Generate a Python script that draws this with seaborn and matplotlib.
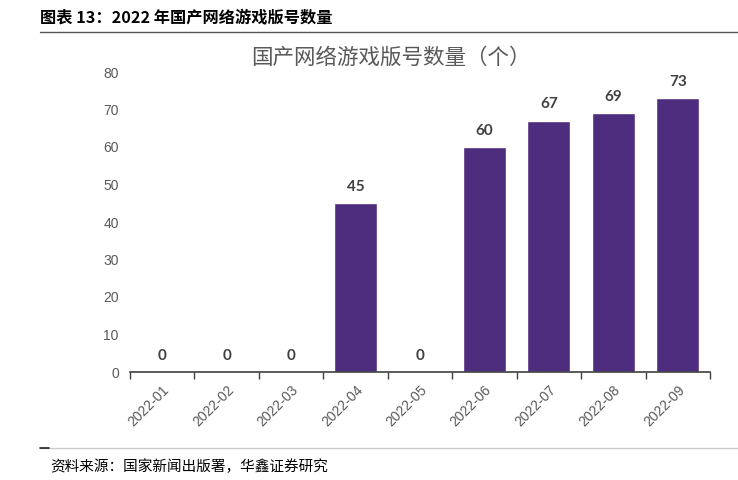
import matplotlib
matplotlib.use("Agg")
import matplotlib.pyplot as plt
import seaborn as sns
import pandas as pd

months = ["2022-01", "2022-02", "2022-03", "2022-04", "2022-05",
          "2022-06", "2022-07", "2022-08", "2022-09"]
counts = [0, 0, 0, 45, 0, 60, 67, 69, 73]

df = pd.DataFrame({"month": months, "count": counts})

sns.set_theme(style="white")
plt.rcParams["font.family"] = ["Noto Sans CJK SC", "DejaVu Sans"]

fig = plt.figure(figsize=(7.38, 4.8), dpi=100)
ax = fig.add_axes([0.176, 0.225, 0.786, 0.625])

sns.barplot(data=df, x="month", y="count", color="#4E2D7F", width=0.67,
            saturation=1, ax=ax)

ax.set_ylim(0, 80)
ax.set_xlim(-0.5, len(months) - 0.5)
ax.set_yticks(range(0, 81, 10))
ax.set_xlabel("")
ax.set_ylabel("")

for i, v in enumerate(counts):
    ax.text(i, v + 2.5, str(v), ha="center", va="bottom", fontsize=11,
            fontweight="bold", color="#404040", family="Lato")

for s in ["top", "right", "left"]:
    ax.spines[s].set_visible(False)
ax.spines["bottom"].set_color("#404040")
ax.spines["bottom"].set_linewidth(1.2)

# tick marks between the categories
ax.set_xticks([i + 0.5 for i in range(-1, len(months))], minor=True)
ax.tick_params(axis="x", which="minor", length=5, width=1, color="#404040",
               direction="out", bottom=True)
ax.tick_params(axis="x", which="major", length=0, pad=8)
ax.tick_params(axis="y", length=0, pad=8)
ax.set_xticks(range(len(months)))
ax.set_xticklabels(months, rotation=45, ha="right", rotation_mode="anchor",
                   fontsize=10, color="#595959", family="Liberation Sans")
for lab in ax.get_yticklabels():
    lab.set_fontsize(10)
    lab.set_color("#595959")
    lab.set_family("Liberation Sans")

fig.text(0.53, 0.88, "国产网络游戏版号数量（个）", ha="center", va="center",
         fontsize=15.5, color="#595959")

# report header and footer
fig.text(0.054, 0.962, "图表 13：2022 年国产网络游戏版号数量", ha="left",
         va="center", fontsize=11.7, fontweight="bold", color="#000000")
fig.add_artist(plt.Line2D([0.054, 1.0], [0.933, 0.933], color="#555555",
                          lw=1.0, transform=fig.transFigure))
fig.add_artist(plt.Line2D([0.054, 1.0], [0.067, 0.067], color="#cccccc",
                          lw=1.0, transform=fig.transFigure))
fig.add_artist(plt.Line2D([0.054, 0.066], [0.067, 0.067], color="#222222",
                          lw=1.2, transform=fig.transFigure))
fig.text(0.068, 0.027, "资料来源：国家新闻出版署，华鑫证券研究", ha="left",
         va="center", fontsize=10.5, color="#000000")

fig.savefig("out.png", dpi=100)
